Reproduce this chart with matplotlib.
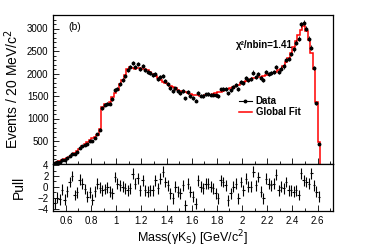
import numpy as np
import matplotlib
matplotlib.use("Agg")
import matplotlib.pyplot as plt
from matplotlib.ticker import MultipleLocator
from matplotlib.lines import Line2D

plt.rcParams['font.family'] = ['Liberation Sans', 'DejaVu Sans']

# bin layout: 20 MeV bins starting at 0.50 GeV
bin_start = 0.50
bin_width = 0.02

# global fit (events per bin)
fit = [20, 40, 60, 80, 100, 120, 150, 190, 230, 280,
       330, 380, 430, 480, 520, 560, 590, 640, 760, 1250,
       1320, 1330, 1360, 1480, 1560, 1640, 1760, 1860, 1960, 2100,
       2150, 2130, 2110, 2130, 2120, 2110, 2100, 2080, 2040, 1990,
       1940, 1900, 1860, 1820, 1790, 1760, 1730, 1700, 1670, 1640,
       1620, 1600, 1580, 1560, 1540, 1530, 1520, 1515, 1510, 1510,
       1515, 1520, 1530, 1540, 1560, 1580, 1600, 1620, 1640, 1660,
       1680, 1700, 1720, 1750, 1780, 1810, 1840, 1860, 1880, 1900,
       1910, 1920, 1930, 1950, 1960, 1970, 1990, 2010, 2040, 2070,
       2110, 2170, 2250, 2350, 2460, 2580, 2720, 2850, 2960, 3060,
       2950, 2740, 2450, 2110, 1370, 480]

# pulls
pull = [-3.0, -2.0, -2.3, -0.5, -2.4, -0.8, 0.9, 2.0, -1.5, -1.0,
        1.3, 0.6, -0.4, -1.8, -1.0, -2.4, -0.8, 0.6, -0.2, -0.6,
        -0.4, -0.1, -0.9, -1.2, 1.8, 0.6, 0.3, 0.0, -0.3, -0.6,
        -0.3, 2.4, 0.6, 1.6, -0.6, 1.2, -0.6, -0.9, -0.6, -0.6,
        1.2, -0.3, 1.5, 2.8, 0.9, 0.3, -1.2, -2.1, 0.0, -0.9,
        -1.2, 0.3, -3.4, 0.6, -0.9, -1.8, -3.1, 1.2, 0.0, -0.3,
        0.6, 0.6, 0.0, -0.3, -1.2, -2.1, 1.2, 0.9, 0.3, -2.5,
        -1.2, 0.0, 0.6, -2.1, 0.9, -0.6, 1.5, 0.0, 0.0, 2.8,
        0.3, 1.8, -0.9, -2.1, 1.5, 0.6, 0.3, 0.6, 2.2, -0.6,
        0.0, -0.3, 0.9, -0.6, -0.6, -0.9, -0.6, -1.5, 2.5, 1.2,
        0.9, 0.6, 2.5, 0.3, -0.9, -1.8]

x_ticks = [0.6, 0.8, 1.0, 1.2, 1.4, 1.6, 1.8, 2.0, 2.2, 2.4, 2.6]
x_tick_labels = ["0.6", "0.8", "1", "1.2", "1.4", "1.6", "1.8", "2", "2.2", "2.4", "2.6"]
y_ticks = [500, 1000, 1500, 2000, 2500, 3000]
pull_ticks = [-4, -2, 0, 2, 4]

fit = np.array(fit, dtype=float)
pull = np.array(pull, dtype=float)
n = len(fit)
edges = bin_start + bin_width * np.arange(n + 1)
centers = 0.5 * (edges[:-1] + edges[1:])
data = fit + pull * np.sqrt(fit)
data_err = np.sqrt(np.clip(data, 0, None))

W, H = 374, 248
fig = plt.figure(figsize=(W / 100, H / 100), dpi=100)
L, R = 53.3 / W, 332.7 / W
top_y0, top_y1 = 1 - 163.5 / H, 1 - 15 / H
bot_y0 = 1 - 210.7 / H
ax = fig.add_axes([L, top_y0, R - L, top_y1 - top_y0])
axp = fig.add_axes([L, bot_y0, R - L, top_y0 - bot_y0], sharex=ax)

ax.stairs(fit, edges, color='red', lw=1.1, zorder=2)
ax.errorbar(centers, data, yerr=data_err, fmt='o', ms=1.8, color='black',
            ecolor='black', elinewidth=0.6, capsize=0, zorder=3)
ax.set_xlim(0.5, 2.72)
ax.set_ylim(0, 3300)
ax.set_yticks(y_ticks)
ax.yaxis.set_minor_locator(MultipleLocator(100))
ax.xaxis.set_minor_locator(MultipleLocator(0.1))
ax.tick_params(axis='x', labelbottom=False)
ax.set_ylabel('Events / 20 MeV/c$^2$', fontsize=10, labelpad=4)

ax.text(0.62, 3030, '(b)', fontsize=7.5, va='center', ha='left')
ax.text(1.95, 2630, 'χ²/nbin=1.41', fontsize=7, fontweight='bold',
        va='center', ha='left')

h1 = Line2D([], [], color='black', marker='o', ms=1.8, lw=0.8)
h2 = Line2D([], [], color='red', lw=1.1)
ax.legend([h1, h2], ['Data', 'Global Fit'], loc='upper left',
          bbox_to_anchor=(0.665, 0.455), frameon=False,
          handlelength=1.3, handletextpad=0.4, labelspacing=0.15,
          borderaxespad=0, borderpad=0,
          prop={'weight': 'bold', 'size': 7})

axp.errorbar(centers, pull, xerr=bin_width / 2, yerr=1.0, fmt='none',
             ecolor='black', elinewidth=0.8, capsize=0)
axp.set_ylim(-4.4, 4.3)
axp.set_yticks(pull_ticks)
axp.yaxis.set_minor_locator(MultipleLocator(1))
axp.set_xticks(x_ticks)
axp.set_xticklabels(x_tick_labels)
axp.xaxis.set_minor_locator(MultipleLocator(0.1))
axp.set_ylabel('Pull', fontsize=10, labelpad=8)
axp.set_xlabel('Mass(γK$_{\\mathrm{S}}$) [GeV/c$^2$]', fontsize=9, labelpad=2)

for a in (ax, axp):
    a.tick_params(which='both', direction='in', labelsize=7, width=0.6)
    a.tick_params(which='major', length=4)
    a.tick_params(which='minor', length=2)
    for s in a.spines.values():
        s.set_linewidth(0.9)

fig.align_ylabels([ax, axp])
fig.savefig('out.png', dpi=100)
